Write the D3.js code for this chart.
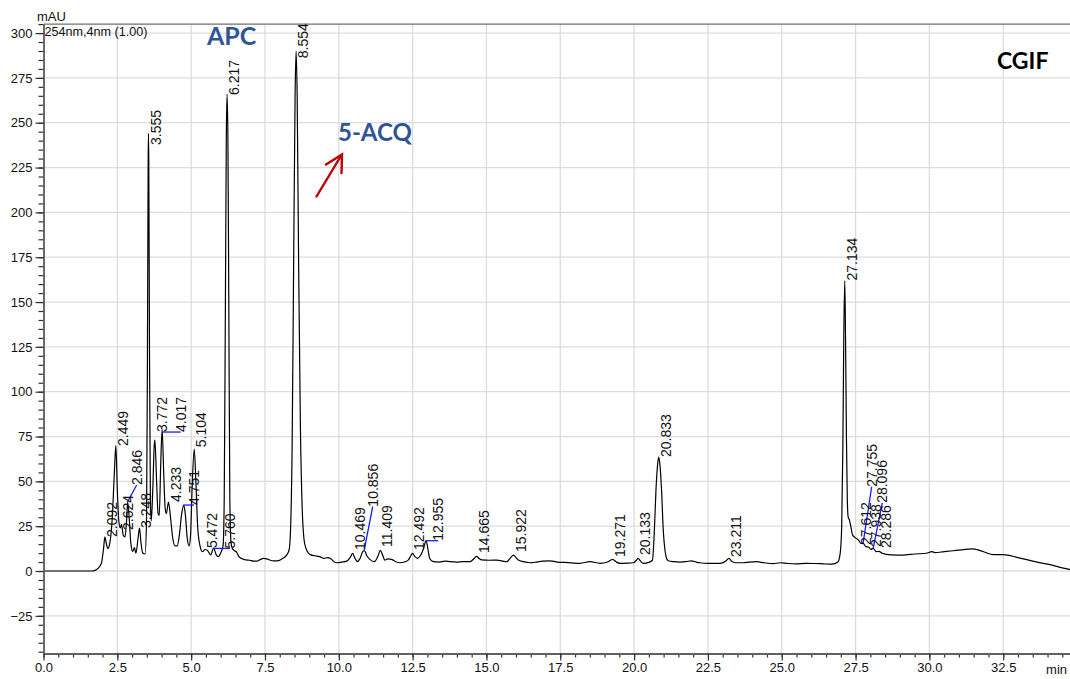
<!DOCTYPE html>
<html><head><meta charset="utf-8">
<script src="https://cdn.jsdelivr.net/npm/d3@7"></script>
<style>body{margin:0;background:#fff}svg{display:block}</style>
</head><body><svg id="c" width="1070" height="679"></svg>
<script>
// ---- data (time in min, signal in mAU) ----
const traceT = [0,1.0,1.65,1.8,1.9,1.97,2.03,2.08,2.12,2.18,2.25,2.33,2.40,2.45,2.50,2.55,2.60,2.64,2.70,2.76,2.82,2.85,2.90,2.96,3.02,3.08,3.13,3.20,3.25,3.30,3.36,3.44,3.49,3.52,3.545,3.555,3.565,3.59,3.62,3.65,3.70,3.75,3.772,3.83,3.88,3.92,3.97,4.017,4.07,4.12,4.16,4.233,4.30,4.38,4.46,4.53,4.60,4.68,4.751,4.80,4.87,4.93,4.98,5.03,5.104,5.16,5.22,5.30,5.38,5.472,5.55,5.66,5.76,5.85,5.92,6.00,6.08,6.12,6.16,6.19,6.217,6.245,6.275,6.31,6.35,6.39,6.45,6.54,6.62,6.71,6.85,6.99,7.10,7.22,7.35,7.45,7.56,7.68,7.80,7.92,8.05,8.15,8.24,8.32,8.37,8.42,8.47,8.52,8.554,8.59,8.64,8.70,8.76,8.82,8.88,8.95,9.05,9.20,9.35,9.50,9.62,9.72,9.85,9.95,10.10,10.27,10.40,10.469,10.55,10.63,10.72,10.82,10.87,10.95,11.05,11.20,11.32,11.409,11.48,11.56,11.66,11.79,11.93,12.07,12.22,12.35,12.44,12.50,12.58,12.66,12.76,12.86,12.955,13.02,13.08,13.20,13.40,13.60,13.77,14.00,14.20,14.45,14.58,14.665,14.75,14.84,15.10,15.35,15.55,15.69,15.82,15.922,16.00,16.08,16.25,16.47,16.70,16.90,17.15,17.40,17.65,17.90,18.17,18.50,18.85,19.10,19.271,19.40,19.52,19.75,19.97,20.08,20.133,20.22,20.31,20.50,20.62,20.68,20.74,20.80,20.833,20.87,20.93,20.99,21.05,21.10,21.16,21.35,21.55,21.75,21.95,22.10,22.23,22.50,22.90,23.10,23.211,23.30,23.42,23.70,23.90,24.15,24.40,24.71,24.94,25.20,25.50,25.80,26.10,26.40,26.70,26.90,26.98,27.03,27.07,27.10,27.134,27.16,27.19,27.22,27.25,27.29,27.34,27.40,27.50,27.612,27.68,27.755,27.85,27.938,28.02,28.096,28.20,28.286,28.40,28.70,29.10,29.50,29.90,30.08,30.20,30.50,30.80,31.10,31.44,31.70,31.90,32.16,32.50,33.00,33.50,34.00,34.70,35.00];
const traceV = [0,0,0,0.8,2.5,5,12,19,16,12.5,16,30,55,70,45,28,24,26,20,19,30,38.5,30,15,11,13,10,18,24,16,10,9.5,30,120,230,244,230,120,40,28,45,70,73,50,32,31,60,79,55,35,32,38.5,30,18,14,14,20,32,36.8,32,18,14,20,45,68,50,25,14,10.8,12,11.5,9,12.8,9,8,10,14,40,150,240,266,240,150,40,16,12.8,11.5,10.5,8,7,6.2,6,5.5,5.5,6.5,7,6.8,6,5.7,5.7,6.5,7.5,9,12,25,70,170,265,290,265,170,80,35,18,13,10.5,9,8.5,8,7,7.5,7,5,4.6,5,5.5,8,9.8,7,5.2,7,11,11.3,8.5,6.5,5.2,8,11.5,9,6.1,6.8,6.5,5.2,4.6,5,6.1,8.5,9.8,8,7.1,8.5,12,17,12,7,5.2,5,5.5,5.2,5,5.2,5.2,7,8.2,7,6.2,6,6.1,5.5,5.2,7.5,8.9,7.5,6.1,5.2,4.6,5,5.5,5.7,5,4.8,4.5,4.3,5.2,4.3,5,6.5,5,4.3,4.4,4.6,6,7.1,5.5,4.3,4.8,6,20,45,60,63.5,60,45,22,11,7,5.7,5.2,5,5.2,5.7,5,4.6,4.3,4.3,5.5,7.1,5.5,4.6,4.6,5,5.2,4.6,4.1,4.6,4.2,4,4.3,4.2,4,3.8,5,10,25,70,130,162,130,75,40,30,28.5,24.7,20,18.5,17,15.4,15.4,13.6,13.4,12.1,12.6,10.8,11,9.9,9,8.9,9.5,9.9,10.8,10.3,10.8,11.3,11.8,12.4,11.5,10.3,9.1,9.1,7.5,5.5,3.8,1.1,0.2];

// peak labels: retention time text and the signal level where the label starts
const peakRT = ["2.092","2.449","2.624","2.846","3.248","3.555","3.772","4.017","4.233","4.751","5.104","5.472","5.760","6.217","8.554","10.469","10.856","11.409","12.492","12.955","14.665","15.922","19.271","20.133","20.833","23.211","27.134","27.612","27.755","27.938","28.096","28.286"];
const peakH  = [19,69.7,22.9,38.5,24,237.6,77.5,77.5,38.5,36.8,69,12.8,12.6,265.5,286,11.7,11.3,13.4,11.7,16.9,10,10.6,7.8,8.9,63.6,7.8,162,14.5,15.4,13.4,12.6,12.8];
// labels moved away from their peak (joined by a blue leader): rt, label time, label level
const movedRT = ["2.846","4.017","4.751","5.760","10.856","12.955","27.755","28.096"];
const movedT  = [3.155,4.646,5.097,6.316,11.148,13.370,28.045,28.406];
const movedV  = [48.0,77.5,36.8,12.6,35.9,16.9,47.0,38.0];

const xMajor = [0,2.5,5,7.5,10,12.5,15,17.5,20,22.5,25,27.5,30,32.5];
const yMajor = [-25,0,25,50,75,100,125,150,175,200,225,250,275,300];

// ---- drawing ----
const svg = d3.select("#c");
const x = d3.scaleLinear().domain([0,35]).range([43.5, 43.5+29.53*35]);
const y = d3.scaleLinear().domain([-46,305]).range([653.5, 24.1]);
const L = x(0), R = 1070, T = y(305), B = y(-46);

svg.append("rect").attr("width",1070).attr("height",679).attr("fill","#fff");

// grid
const grid = svg.append("g").attr("stroke","#dcdcdc").attr("stroke-width",1.3);
grid.selectAll(".gx").data(xMajor.slice(1)).join("line")
  .attr("x1",d=>x(d)).attr("x2",d=>x(d)).attr("y1",T).attr("y2",B);
grid.selectAll(".gy").data(yMajor).join("line")
  .attr("x1",L).attr("x2",R).attr("y1",d=>y(d)).attr("y2",d=>y(d));

// frame top
svg.append("line").attr("x1",L).attr("x2",R).attr("y1",T).attr("y2",T)
  .attr("stroke","#707070").attr("stroke-width",1.3);

// clip
svg.append("clipPath").attr("id","clip").append("rect")
  .attr("x",L).attr("y",T).attr("width",R-L).attr("height",B-T);

// trace
const pts = traceT.map((t,i)=>[t,traceV[i]]);
const line = d3.line().x(d=>x(d[0])).y(d=>y(d[1])).curve(d3.curveMonotoneX);
svg.append("path").attr("clip-path","url(#clip)").attr("d",line(pts))
  .attr("fill","none").attr("stroke","#000").attr("stroke-width",1.2).attr("stroke-linejoin","round");

// axes
const fontAx = "'Liberation Sans', Arial, sans-serif";
const xMinor = d3.range(0,35.01,0.5);
const gxMinor = svg.append("g").attr("transform",`translate(0,${B})`)
  .call(d3.axisBottom(x).tickValues(xMinor).tickSize(4).tickSizeOuter(0).tickFormat(""));
const gx = svg.append("g").attr("transform",`translate(0,${B})`)
  .call(d3.axisBottom(x).tickValues(xMajor).tickSize(7).tickPadding(2).tickSizeOuter(0).tickFormat(d3.format(".1f")));
[gxMinor,gx].forEach(g=>{
  g.select(".domain").attr("stroke","#606060").attr("stroke-width",2);
  g.selectAll(".tick line").attr("stroke","#303030").attr("stroke-width",1.2);
});
gx.selectAll(".tick text").attr("font-family",fontAx).attr("font-size",13).attr("fill","#111");

const yMinor = d3.range(-45,305.01,5);
const gyMinor = svg.append("g").attr("transform",`translate(${L},0)`)
  .call(d3.axisLeft(y).tickValues(yMinor).tickSize(5).tickSizeOuter(0).tickFormat(""));
const gy = svg.append("g").attr("transform",`translate(${L},0)`)
  .call(d3.axisLeft(y).tickValues(yMajor).tickSize(8).tickSizeOuter(0));
[gyMinor,gy].forEach(g=>{
  g.select(".domain").attr("stroke","#606060").attr("stroke-width",1.5);
  g.selectAll(".tick line").attr("stroke","#303030").attr("stroke-width",1.2);
});
gy.selectAll(".tick text").attr("font-family",fontAx).attr("font-size",13).attr("fill","#111").attr("x",-11);

svg.append("text").attr("x",37).attr("y",21).text("mAU")
  .attr("font-family",fontAx).attr("font-size",13).attr("fill","#111");
svg.append("text").attr("x",1067).attr("y",674).attr("text-anchor","end").text("min")
  .attr("font-family",fontAx).attr("font-size",13).attr("fill","#111");
svg.append("text").attr("x",44.5).attr("y",36).text("254nm,4nm (1.00)")
  .attr("font-family",fontAx).attr("font-size",12.6).attr("fill","#111");

// leaders
const moved = new Map(movedRT.map((r,i)=>[r,[movedT[i],movedV[i]]]));
const peaks = peakRT.map((r,i)=>({rt:r,t:+r,h:peakH[i],m:moved.get(r)}));
svg.append("g").selectAll("line").data(peaks.filter(p=>p.m)).join("line")
  .attr("x1",p=>x(p.t)).attr("y1",p=>y(p.h))
  .attr("x2",p=>x(p.m[0])).attr("y2",p=>y(p.m[1]))
  .attr("stroke","#1a1aff").attr("stroke-width",1.3);

// peak labels
svg.append("g").selectAll("text").data(peaks).join("text")
  .attr("transform",p=>{
    const px = p.m ? x(p.m[0]) : x(p.t)+7;
    const py = p.m ? y(p.m[1]) : y(p.h);
    return `translate(${px},${py}) rotate(-90)`;
  })
  .attr("dy","0.36em").text(p=>p.rt)
  .attr("font-family",fontAx).attr("font-size",14).attr("fill","#111");

// annotations
const fontAnn = "Lato, 'Open Sans', sans-serif";
svg.append("text").attr("x",207).attr("y",45).text("APC")
  .attr("font-family",fontAnn).attr("font-weight",700).attr("font-size",25).attr("fill","#2f5597");
svg.append("text").attr("x",338).attr("y",141).text("5-ACQ")
  .attr("font-family",fontAnn).attr("font-weight",700).attr("font-size",24).attr("fill","#2f5597");
svg.append("text").attr("x",997).attr("y",69).text("CGIF")
  .attr("font-family",fontAnn).attr("font-weight",700).attr("font-size",23).attr("fill","#000");

// red arrow
const arrow = svg.append("g").attr("stroke","#c00000").attr("stroke-width",2.4).attr("fill","none").attr("stroke-linecap","round");
arrow.append("line").attr("x1",316.5).attr("y1",196.5).attr("x2",341.5).attr("y2",155);
arrow.append("polyline").attr("points","326,164.5 342,154.5 341.5,173");
</script></body></html>
